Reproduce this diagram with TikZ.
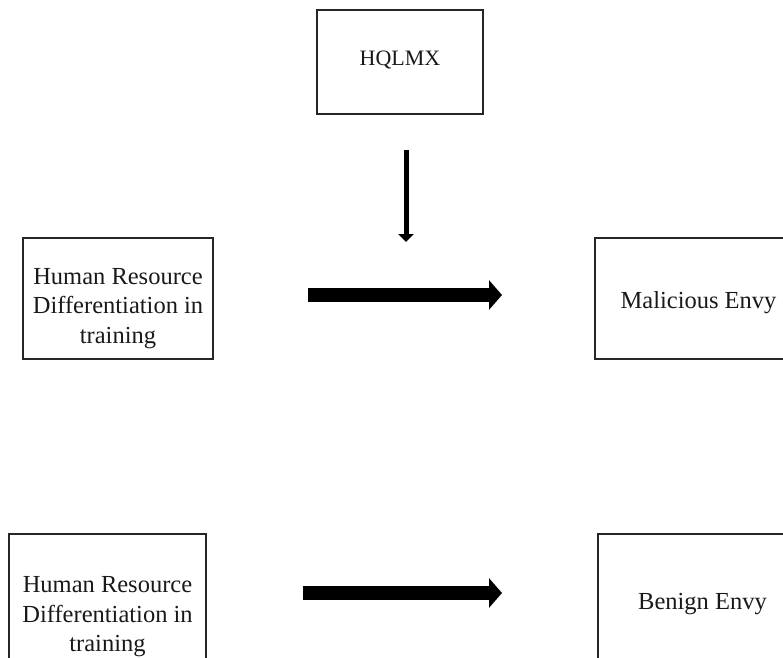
\documentclass[tikz,border=0pt]{standalone}
\usepackage{fontspec}
\setmainfont{Liberation Serif}
\usetikzlibrary{arrows.meta}
\begin{document}
\begin{tikzpicture}[x=1pt,y=1pt,
  box/.style={draw=black!85,line width=1.5pt,rectangle,inner sep=0pt},
  boxtext/.style={align=center,inner sep=0pt,font=\fontsize{24.5}{29.5}\selectfont,text=black!90},
  thick arrow/.style={line width=13.5pt,-{Triangle[length=13pt,width=29pt]}},
  thin arrow/.style={line width=5pt,-{Triangle[length=8pt,width=15pt]}}]
\useasboundingbox (0,0) rectangle (783,-657);
\clip (0,0) rectangle (783,-657);
\node[box,minimum width=166pt,minimum height=104pt,
  label={[boxtext,font=\fontsize{22}{26}\selectfont,yshift=2pt]center:HQLMX}] (hq) at (400,-62) {};
\node[box,minimum width=190pt,minimum height=121pt,
  label={[boxtext,yshift=-10pt]center:{Human Resource\\Differentiation in\\training}}] (hr1) at (118,-298.5) {};
\node[box,minimum width=207pt,minimum height=121pt,
  label={[boxtext,yshift=-4pt]center:Malicious Envy}] (me) at (698.5,-298.5) {};
\node[box,minimum width=197pt,minimum height=158pt,
  label={[boxtext,yshift=-4pt]center:{Human Resource\\Differentiation in\\training}}] (hr2) at (107.5,-613) {};
\node[box,minimum width=209pt,minimum height=136pt,
  label={[boxtext,yshift=-2pt]center:Benign Envy}] (be) at (702.5,-602) {};
\coordinate (v1) at (406,-150);
\coordinate (v2) at (406,-242);
\coordinate (a1s) at (308,-295);
\coordinate (a1e) at (502,-295);
\coordinate (a2s) at (303,-593);
\coordinate (a2e) at (502,-593);
\draw[thin arrow] (v1) -- (v2);
\draw[thick arrow] (a1s) -- (a1e);
\draw[thick arrow] (a2s) -- (a2e);
\end{tikzpicture}
\end{document}
